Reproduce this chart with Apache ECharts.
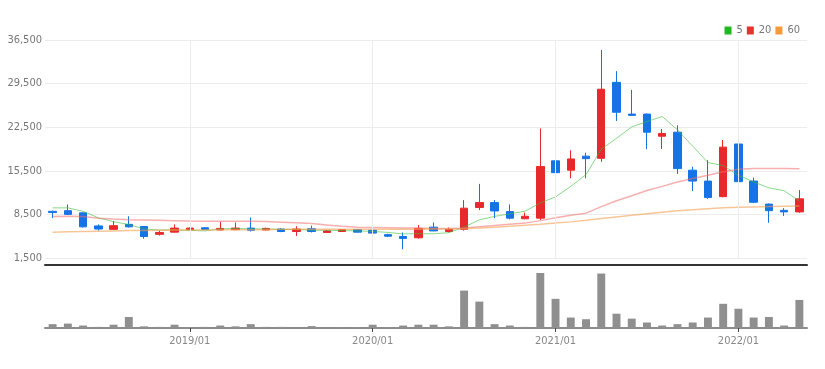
<!DOCTYPE html>
<html>
<head>
<meta charset="utf-8">
<script src="https://cdn.jsdelivr.net/npm/echarts@6/dist/echarts.min.js"></script>
<style>
html,body{margin:0;padding:0;background:#fff;}
#chart{width:825px;height:369px;}
</style>
</head>
<body>
<div id="chart"></div>
<script>
const months = ['2018/04','2018/05','2018/06','2018/07','2018/08','2018/09','2018/10','2018/11','2018/12',
 '2019/01','2019/02','2019/03','2019/04','2019/05','2019/06','2019/07','2019/08','2019/09','2019/10','2019/11','2019/12',
 '2020/01','2020/02','2020/03','2020/04','2020/05','2020/06','2020/07','2020/08','2020/09','2020/10','2020/11','2020/12',
 '2021/01','2021/02','2021/03','2021/04','2021/05','2021/06','2021/07','2021/08','2021/09','2021/10','2021/11','2021/12',
 '2022/01','2022/02','2022/03','2022/04','2022/05'];
const openP  = [9000,9100,8750,6650,6100,6900,6550,5300,5650,6050,6350,6000,6050,6300,6000,6150,5750,6200,5600,5750,6050,5950,5250,4950,4750,6450,5750,6100,9600,10400,8950,7800,7900,17100,15600,17850,17500,29700,24600,24600,21050,21700,15600,13850,11350,19800,13850,10150,9150,8900];
const closeP = [8800,8500,6500,6150,6690,6500,4950,5600,6300,6300,6100,6250,6300,5950,6250,5750,6150,5750,5850,6050,5650,5500,5000,4650,6250,5850,6100,9500,10400,9050,7900,8200,16200,15200,17400,17450,28600,24900,24400,21700,21500,15850,13850,11200,19300,13750,10450,9100,8900,11000];
const lowP   = [7900,8400,6400,5900,6000,6400,4600,5100,5600,6000,6000,5950,6000,5750,5950,5650,5050,5600,5550,5700,5600,5400,4850,2900,4600,5800,5600,5900,9200,7900,7700,7700,7600,14500,14300,14300,16950,23500,24300,18950,19000,15000,12250,11000,11250,11900,10300,7150,8250,8750];
const highP  = [9100,10100,8800,6900,7440,8200,6600,5900,6900,6400,6450,7300,7200,8000,6350,6300,6600,6700,5950,6150,6150,6050,5400,5600,6800,7200,6400,10800,13400,10800,10100,8800,22300,24900,18800,18400,34900,31500,28500,24700,22200,22800,16150,17200,20450,22500,14400,10250,9500,12400];
const volumes = [7,8,4.5,2,6,20,3,2,6,1.5,2,4.5,3,7,2,2,1.5,3.5,0.5,1.5,1.5,6,1.5,4.5,6,6,3,68,48,7,4.5,2,100,53,19,16,99,26,17,10,4.5,7,10,19,44,35,19,20,4.5,51];
const ma5  = [9550,9550,9000,7950,7330,6870,6160,5980,6010,5930,5850,6170,6250,6180,6170,6100,6080,5970,5950,5910,5850,5760,5610,5370,5410,5390,5570,6470,7620,8180,8590,9010,10350,11310,12990,14890,18970,20710,22550,23410,24220,22070,19460,16820,16340,14790,13710,12760,12300,10640];
const ma20 = [8150,8200,8150,7900,7750,7650,7600,7550,7500,7450,7420,7400,7400,7400,7350,7250,7150,7050,6800,6600,6450,6400,6350,6300,6300,6250,6250,6300,6500,6700,6900,7100,7500,7950,8350,8700,9750,10700,11500,12350,13000,13700,14250,14800,15350,15750,15850,15850,15850,15840];
const ma60 = [5650,5700,5750,5800,5850,5900,5900,5950,6000,6000,6000,6050,6050,6050,6050,6100,6100,6100,6100,6100,6100,6100,6100,6100,6100,6150,6150,6200,6300,6450,6600,6750,6900,7100,7300,7550,7850,8100,8350,8600,8850,9100,9250,9400,9550,9650,9700,9750,9800,9850];
const yTicks = [1500,8500,15500,22500,29500,36500];
const yearMarks = ['2019/01','2020/01','2021/01','2022/01'];
const legendNames = ['5','20','60'];

const candleData = months.map((m,i)=>[openP[i],closeP[i],lowP[i],highP[i]]);
const isJan = (idx, val) => String(val).endsWith('/01');
const font = "'Liberation Sans Narrow','DejaVu Sans Condensed','Liberation Sans',sans-serif";

const chart = echarts.init(document.getElementById('chart'));
chart.setOption({
  animation:false,
  backgroundColor:'#fff',
  legend:{
    data:legendNames, right:20, top:20, icon:'rect', itemWidth:7, itemHeight:8, itemGap:4,
    textStyle:{color:'#777', fontSize:11, fontFamily:font}
  },
  grid:[
    {left:45, right:18, top:40, height:218},
    {left:45, right:18, top:273, height:55}
  ],
  xAxis:[
    {type:'category', gridIndex:0, data:months, boundaryGap:true, offset:7,
     axisLine:{show:true, lineStyle:{color:'#333', width:2}},
     axisTick:{show:false}, axisLabel:{show:false}, splitLine:{show:false}},
    {type:'category', gridIndex:1, data:months, boundaryGap:true,
     axisLine:{show:true, lineStyle:{color:'#8c8c8c', width:2}},
     axisTick:{show:true, interval:isJan, alignWithLabel:true, length:4, lineStyle:{color:'#444'}},
     axisLabel:{interval:isJan, color:'#888', fontSize:11, fontFamily:font, margin:8},
     splitLine:{show:false}}
  ],
  yAxis:[
    {type:'value', gridIndex:0, min:yTicks[0], max:yTicks[yTicks.length-1], interval:yTicks[1]-yTicks[0],
     axisLine:{show:false}, axisTick:{show:false},
     axisLabel:{color:'#777', fontSize:11, fontFamily:font, margin:3,
       formatter:v=>v.toLocaleString('en-US')},
     splitLine:{lineStyle:{color:'#ececec'}}},
    {type:'value', gridIndex:1, min:0, max:Math.max(...volumes), show:false, splitLine:{show:false}}
  ],
  series:[
    {type:'candlestick', xAxisIndex:0, yAxisIndex:0, data:candleData, barWidth:'52%',
     itemStyle:{color:'#e8292c', color0:'#1673e6', borderColor:'#e8292c', borderColor0:'#1673e6', borderWidth:1},
     markLine:{silent:true, symbol:'none', label:{show:false},
       lineStyle:{color:'#ececec', type:'solid', width:1},
       data:yearMarks.map(m=>({xAxis:m}))}
    },
    {name:'5', type:'line', data:ma5, showSymbol:false, xAxisIndex:0, yAxisIndex:0,
     itemStyle:{color:'#1fb81f'}, lineStyle:{color:'rgba(60,190,60,0.6)', width:1}},
    {name:'20', type:'line', data:ma20, showSymbol:false, xAxisIndex:0, yAxisIndex:0,
     itemStyle:{color:'#e8322f'}, lineStyle:{color:'rgba(240,110,110,0.55)', width:1.5}},
    {name:'60', type:'line', data:ma60, showSymbol:false, xAxisIndex:0, yAxisIndex:0,
     itemStyle:{color:'#f39a3a'}, lineStyle:{color:'rgba(243,160,80,0.6)', width:1.5}},
    {type:'bar', xAxisIndex:1, yAxisIndex:1, data:volumes, barWidth:'52%',
     itemStyle:{color:'#8f8f8f'}}
  ]
});
</script>
</body>
</html>
